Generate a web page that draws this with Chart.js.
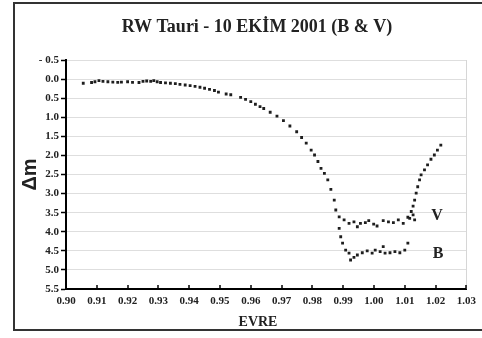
<!DOCTYPE html>
<html><head><meta charset="utf-8">
<script src="https://cdn.jsdelivr.net/npm/chart.js@4.4.1/dist/chart.umd.min.js"></script>
<style>html,body{margin:0;padding:0;background:#fff;}#wrap{position:relative;width:482px;height:338px;}</style>
</head><body><div id="wrap"><canvas id="c" width="482" height="338"></canvas></div>
<script>
const chartTitle = "RW Tauri - 10 EKİM 2001 (B & V)";
const xTitle = "EVRE";
const yTitle = "Δm";
const xTicks = [0.90,0.91,0.92,0.93,0.94,0.95,0.96,0.97,0.98,0.99,1.00,1.01,1.02,1.03];
const yTicks = [-0.5,0,0.5,1,1.5,2,2.5,3,3.5,4,4.5,5,5.5];
const yTickLabels = ["- 0.5","0.0","0.5","1.0","1.5","2.0","2.5","3.0","3.5","4.0","4.5","5.0","5.5"];
const seriesNames = ["V","B"];

const phaseV = [0.9056,0.9083,0.9094,0.9107,0.9120,0.9136,0.9152,0.9168,0.9180,0.9200,0.9216,0.9237,0.9250,0.9262,0.9275,0.9285,0.9296,0.9307,0.9323,0.9339,0.9355,0.9370,0.9387,0.9403,0.9419,0.9435,0.9450,0.9466,0.9482,0.9495,0.9520,0.9535,0.9567,0.9583,0.9600,0.9615,0.9630,0.9642,0.9663,0.9685,0.9706,0.9727,0.9749,0.9765,0.9780,0.9796,0.9807,0.9818,0.9828,0.9839,0.9850,0.9860,0.9871,0.9876,0.9887,
 0.9903,0.9919,0.9935,0.9946,0.9956,0.9972,0.9983,0.9999,1.0010,1.0030,1.0047,1.0063,1.0079,1.0095,1.0110,1.0127,1.0132,
 1.0116,1.0121,1.0127,1.0132,1.0137,1.0142,1.0148,1.0153,1.0164,1.0174,1.0185,1.0196,1.0206,1.0217];
const magV = [0.11,0.09,0.07,0.04,0.06,0.07,0.08,0.085,0.08,0.07,0.085,0.09,0.06,0.05,0.06,0.04,0.07,0.09,0.10,0.11,0.12,0.14,0.155,0.17,0.19,0.215,0.24,0.27,0.30,0.34,0.39,0.41,0.48,0.53,0.59,0.66,0.72,0.77,0.87,0.97,1.09,1.23,1.38,1.53,1.68,1.86,1.99,2.16,2.34,2.47,2.64,2.89,3.17,3.43,3.61,
 3.69,3.78,3.74,3.87,3.78,3.76,3.71,3.80,3.85,3.71,3.74,3.76,3.69,3.78,3.62,3.56,3.69,
 3.65,3.47,3.33,3.17,2.99,2.82,2.64,2.51,2.38,2.25,2.10,1.99,1.86,1.73];
const phaseB = [0.9887,0.9892,0.9898,0.9908,0.9919,0.9924,0.9935,0.9946,0.9962,0.9978,0.9994,1.0004,1.0020,1.0030,1.0036,1.0052,1.0068,1.0084,1.0100,1.0110];
const magB = [3.91,4.13,4.30,4.48,4.56,4.74,4.67,4.61,4.55,4.50,4.56,4.48,4.52,4.39,4.56,4.55,4.52,4.55,4.48,4.30];

const toPts = (xs, ys) => xs.map((x, i) => ({x: x, y: ys[i]}));
const serif = "'Liberation Serif','Times New Roman',serif";

const decor = {
  id: 'decor',
  beforeDraw(chart) {
    const ctx = chart.ctx;
    ctx.save();
    ctx.strokeStyle = '#333';
    ctx.lineWidth = 2;
    ctx.beginPath();
    ctx.moveTo(484, 3); ctx.lineTo(14, 3); ctx.lineTo(14, 330); ctx.lineTo(484, 330);
    ctx.stroke();
    ctx.restore();
  },
  afterDraw(chart) {
    const ctx = chart.ctx, a = chart.chartArea, xs = chart.scales.x;
    ctx.save();
    ctx.strokeStyle = '#d6d6d6'; ctx.lineWidth = 1;
    ctx.beginPath(); ctx.moveTo(Math.round(a.right) + 0.5, a.top); ctx.lineTo(Math.round(a.right) + 0.5, a.bottom); ctx.stroke();
    ctx.strokeStyle = '#000'; ctx.lineWidth = 1.5;
    xTicks.forEach(v => {
      const px = Math.round(xs.getPixelForValue(v));
      ctx.beginPath(); ctx.moveTo(px, a.bottom); ctx.lineTo(px, a.bottom - 4); ctx.stroke();
    });
    ctx.fillStyle = '#222';
    ctx.textAlign = 'center'; ctx.textBaseline = 'middle';
    ctx.font = "bold 18px " + serif;
    ctx.fillText(chartTitle, 257, 27);
    ctx.font = "bold 14px " + serif;
    ctx.fillText(xTitle, 258, 322);
    ctx.font = "bold 16px " + serif;
    ctx.fillText(seriesNames[0], 437, 216);
    ctx.fillText(seriesNames[1], 438, 254);
    ctx.restore();
  }
};

new Chart(document.getElementById('c'), {
  type: 'scatter',
  data: {
    datasets: [
      {label: seriesNames[0], data: toPts(phaseV, magV), backgroundColor: '#1e1e1e', borderColor: '#1e1e1e', pointStyle: 'rect', pointRadius: 2, borderWidth: 0},
      {label: seriesNames[1], data: toPts(phaseB, magB), backgroundColor: '#1e1e1e', borderColor: '#1e1e1e', pointStyle: 'rect', pointRadius: 2, borderWidth: 0}
    ]
  },
  options: {
    responsive: false,
    animation: false,
    layout: {padding: {top: 60, right: 9, left: 0, bottom: 0}},
    plugins: {legend: {display: false}, tooltip: {enabled: false}, title: {display: false}},
    scales: {
      x: {
        type: 'linear', min: 0.90, max: 1.03,
        afterBuildTicks: s => { s.ticks = xTicks.map(v => ({value: v})); },
        afterFit: s => { s.height = 49; },
        grid: {color: 'rgba(0,0,0,0)', drawTicks: false},
        border: {display: true, color: '#000', width: 2},
        ticks: {padding: 6, color: '#222', font: {family: serif, size: 11, weight: 'bold'}, maxRotation: 0, autoSkip: false,
          callback: v => Number(v).toFixed(2)}
      },
      y: {
        type: 'linear', min: -0.5, max: 5.5, reverse: true,
        afterBuildTicks: s => { s.ticks = yTicks.map(v => ({value: v})); },
        afterFit: s => { s.width = 66; },
        grid: {color: '#dedede', lineWidth: 1, drawTicks: true, tickLength: 5, tickColor: '#000', tickWidth: 1.5},
        border: {display: true, color: '#000', width: 2},
        ticks: {padding: 2, color: '#222', font: {family: serif, size: 11, weight: 'bold'}, autoSkip: false,
          callback: (v) => { const i = yTicks.findIndex(t => Math.abs(t - v) < 1e-9); return i >= 0 ? yTickLabels[i] : ''; }},
        title: {display: true, text: yTitle, color: '#222', font: {family: "'Liberation Sans',Arial,sans-serif", size: 20, weight: 'bold'}, padding: {top: 18, bottom: 0}}
      }
    }
  },
  plugins: [decor]
});
</script></body></html>
